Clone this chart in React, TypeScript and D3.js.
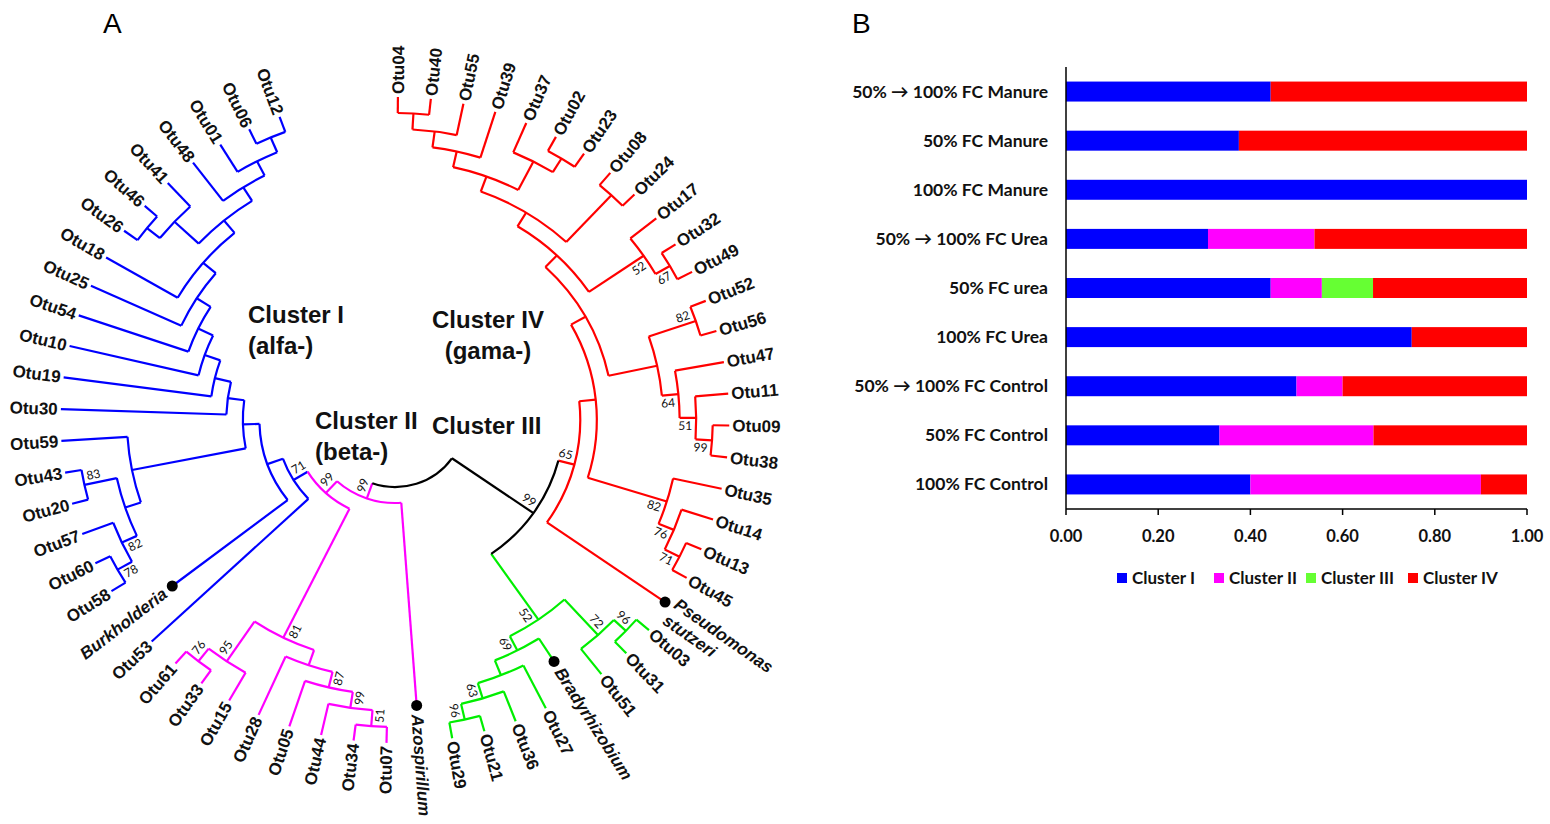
import React from 'react';
import * as d3 from 'd3';

// ================= Panel A : circular dendrogram data =================
// Newick pieces (support value, optional "-" = label on the other side, optional "#k" = cluster colour)
const clusterIVNewick =
  "(((((((((Otu04,Otu40),Otu55),Otu39),(Otu37,(Otu02,Otu23))),(Otu08,Otu24)),(Otu17,(Otu32,Otu49)67)52),((Otu52,Otu56)82-,(Otu47,(Otu11,(Otu09,Otu38)99)51)64)),(Otu35,(Otu14,(Otu13,Otu45)71)76)82),Pseudomonas_stutzeri)65-#4";
const clusterIIINewick =
  "(((Otu03,Otu31)96-,Otu51)72-,(Bradyrhizobium,(Otu27,(Otu36,(Otu21,Otu29)96)63))69)52#3";
const clusterIINewick =
  "(((((Otu07,Otu34)51,Otu44)99,Otu05)87,Otu28),(Otu15,(Otu33,Otu61)76-)95-)81";
const clusterIAlfaCore = "(((Otu26,Otu46),Otu41),(Otu48,(Otu01,(Otu06,Otu12))))";
const clusterINewick =
  "(Otu53,(Burkholderia,(((((Otu58,Otu60)78,Otu57)82,(Otu20,Otu43)83-),Otu59),(Otu30,(Otu19,(Otu10,(Otu54,(Otu25,(Otu18," +
  clusterIAlfaCore + ")))))))))71-#1";
const treeNewick =
  "((" + clusterIVNewick + "," + clusterIIINewick + ")99-#0,(Azospirillum,(" + clusterIINewick + "," + clusterINewick + ")99-)99-#2)#0;";

const refTaxa = ["Burkholderia", "Azospirillum", "Bradyrhizobium", "Pseudomonas stutzeri"];
const refTipHeight = [3.2, 2.3, 2.3, 0.3];
const treeColors = ["#000000", "#0000FF", "#FF00FF", "#00EE00", "#FF0000"];

const clusterLabels = [
  { lines: ["Cluster I", "(alfa-)"], x: 248, y: 323, anchor: "start" },
  { lines: ["Cluster IV", "(gama-)"], x: 488, y: 328, anchor: "middle" },
  { lines: ["Cluster II", "(beta-)"], x: 315, y: 429, anchor: "start" },
  { lines: ["Cluster III"], x: 432, y: 434, anchor: "start" },
];

// ================= Panel B : stacked bar data =================
const categories = [
  "50% \u2192 100% FC Manure",
  "50% FC Manure",
  "100% FC Manure",
  "50% \u2192 100% FC Urea",
  "50% FC urea",
  "100% FC Urea",
  "50% \u2192 100% FC Control",
  "50% FC Control",
  "100% FC Control",
];
const clusterI = [0.444, 0.375, 1.0, 0.308, 0.444, 0.75, 0.5, 0.333, 0.4];
const clusterII = [0, 0, 0, 0.231, 0.111, 0, 0.1, 0.334, 0.5];
const clusterIII = [0, 0, 0, 0, 0.111, 0, 0, 0, 0];
const clusterIV = [0.556, 0.625, 0, 0.461, 0.334, 0.25, 0.4, 0.333, 0.1];
const seriesNames = ["Cluster I", "Cluster II", "Cluster III", "Cluster IV"];
const barColors = ["#0000FF", "#FF00FF", "#66FF33", "#FF0000"];
const xTicks = [0, 0.2, 0.4, 0.6, 0.8, 1.0];

// ---------------- helpers ----------------
type TNode = { name?: string; children?: TNode[]; support?: number; side: number; cluster?: number; cl?: number };

function parseNewick(s: string): TNode {
  let i = 0;
  function node(): TNode {
    const n: TNode = { side: 1 };
    if (s[i] === '(') {
      i++;
      n.children = [node()];
      while (s[i] === ',') { i++; n.children.push(node()); }
      i++; // ')'
    }
    let lab = '';
    while (i < s.length && !',);'.includes(s[i])) lab += s[i++];
    if (n.children) {
      const m = lab.match(/^(\d*)([+-]?)(?:#(\d))?$/);
      if (m) {
        if (m[1]) n.support = +m[1];
        n.side = m[2] === '-' ? -1 : 1;
        if (m[3] !== undefined) n.cluster = +m[3];
      }
    } else {
      n.name = lab.replace(/_/g, ' ');
    }
    return n;
  }
  return node();
}

const CX = 395, CY = 420, KX = 1.035;
const pt = (deg: number, r: number): [number, number] => {
  const t = (deg * Math.PI) / 180;
  return [CX + KX * r * Math.sin(t), CY - r * Math.cos(t)];
};
const arcPath = (t1: number, t2: number, r: number) => {
  const [x1, y1] = pt(t1, r);
  const [x2, y2] = pt(t2, r);
  const large = t2 - t1 > 180 ? 1 : 0;
  return `M${x1},${y1}A${KX * r},${r} 0 ${large} 1 ${x2},${y2}`;
};

function PanelA() {
  const data = parseNewick(treeNewick);
  const root = d3.hierarchy<TNode>(data, (d) => d.children);
  d3.cluster<TNode>().size([1, 1]).separation(() => 1)(root);
  root.each((d) => {
    d.data.cl = d.data.cluster ?? (d.parent ? d.parent.data.cl : 0);
  });
  const leaves = root.leaves();
  const ang = d3.scaleLinear().domain([leaves[0].x!, leaves[leaves.length - 1].x!]).range([0.5, 339.8]);
  const rad = d3.scaleLinear().domain([0, root.height]).range([323, 67]);
  const tipR = (d: d3.HierarchyNode<TNode>) => {
    const k = refTaxa.indexOf(d.data.name || '');
    return k >= 0 ? rad(refTipHeight[k]) : rad(0);
  };
  const nodes = root.descendants();
  const rot = (t: number) => (t < 180 ? t - 90 : t + 90);

  return (
    <g>
      <text x={103} y={33} fontFamily="Liberation Sans, Arial, sans-serif" fontSize={28}>A</text>
      {/* radial branches */}
      {nodes.filter((d) => d.parent).map((d, i) => {
        const t = ang(d.x!);
        const [x1, y1] = pt(t, rad(d.parent!.height));
        const [x2, y2] = pt(t, d.children ? rad(d.height) : tipR(d));
        return <line key={'r' + i} x1={x1} y1={y1} x2={x2} y2={y2} stroke={treeColors[d.data.cl!]} strokeWidth={2.2} />;
      })}
      {/* arcs */}
      {nodes.filter((d) => d.children).map((d, i) => {
        const c = d.children!;
        return (
          <path key={'a' + i} d={arcPath(ang(c[0].x!), ang(c[c.length - 1].x!), rad(d.height))}
            fill="none" stroke={treeColors[d.data.cl!]} strokeWidth={2.2} />
        );
      })}
      {/* leaf labels */}
      {leaves.map((d, i) => {
        const t = ang(d.x!);
        const isRef = refTaxa.includes(d.data.name!);
        const r = tipR(d);
        const [xd, yd] = pt(t, r);
        const [xl, yl] = pt(t, r + (isRef ? 9 : 3));
        const parts = d.data.name!.split(' ');
        const multi = parts.length > 1;
        return (
          <g key={'l' + i}>
            {isRef && <circle cx={xd} cy={yd} r={5.5} fill="#000" />}
            <text transform={`translate(${xl},${yl}) rotate(${rot(t)})`}
              textAnchor={t < 180 ? 'start' : 'end'} dy={multi ? '0' : '0.35em'}
              fontFamily="Liberation Sans, Arial, sans-serif" fontSize={17} fontWeight="bold"
              fontStyle={isRef ? 'italic' : 'normal'} fill="#111">
              {multi ? (
                <>
                  <tspan x={0}>{parts[0]}</tspan>
                  <tspan x={0} dy="1.15em">{parts[1]}</tspan>
                </>
              ) : d.data.name}
            </text>
          </g>
        );
      })}
      {/* support values */}
      {nodes.filter((d) => d.children && d.data.support !== undefined).map((d, i) => {
        const t = ang(d.x!);
        const [x, y] = pt(t, rad(d.height));
        const right = t < 180;
        return (
          <text key={'s' + i} transform={`translate(${x},${y}) rotate(${rot(t)})`}
            x={right ? -11 : 11} y={d.data.side * 8 + 4} textAnchor="middle"
            fontFamily="Lato, sans-serif" fontSize={12} fill="#111">
            {d.data.support}
          </text>
        );
      })}
      {/* cluster labels */}
      {clusterLabels.map((c, i) => (
        <text key={'c' + i} x={c.x} y={c.y} textAnchor={c.anchor as any}
          fontFamily="Liberation Sans, Arial, sans-serif" fontSize={24} fontWeight="bold" fill="#111">
          {c.lines.map((ln, j) => (
            <tspan key={j} x={c.x} dy={j === 0 ? 0 : 31}>{ln}</tspan>
          ))}
        </text>
      ))}
    </g>
  );
}

function PanelB() {
  const x = d3.scaleLinear().domain([0, 1]).range([1066, 1527]);
  const y = d3.scaleBand<string>().domain(categories).range([67, 509]).paddingInner(0.593).paddingOuter(0.2965);
  const rows = categories.map((c, i) => ({
    cat: c, "Cluster I": clusterI[i], "Cluster II": clusterII[i], "Cluster III": clusterIII[i], "Cluster IV": clusterIV[i],
  }));
  const stack = d3.stack<any>().keys(seriesNames)(rows);
  const font = "Lato, 'Open Sans', sans-serif";
  const legendX = [1117, 1214, 1306, 1408];
  return (
    <g>
      <text x={852} y={33} fontFamily="Liberation Sans, Arial, sans-serif" fontSize={28}>B</text>
      {stack.map((s, si) => (
        <g key={si} fill={barColors[si]}>
          {s.map((d, i) => (
            d[1] - d[0] > 0 ? (
              <rect key={i} x={x(d[0])} y={y(categories[i])} width={x(d[1]) - x(d[0])} height={y.bandwidth()} />
            ) : null
          ))}
        </g>
      ))}
      {/* axes */}
      <line x1={1066} x2={1066} y1={67} y2={509} stroke="#000" strokeWidth={1.5} />
      <line x1={1066} x2={1527} y1={509} y2={509} stroke="#000" strokeWidth={1.5} />
      {xTicks.map((t, i) => (
        <g key={i}>
          <line x1={x(t)} x2={x(t)} y1={509} y2={515} stroke="#000" strokeWidth={1.5} />
          <text x={x(t)} y={542} textAnchor="middle" fontFamily={font} fontWeight="bold" fontSize={16.5} fill="#111">
            {d3.format('.2f')(t)}
          </text>
        </g>
      ))}
      {categories.map((c, i) => (
        <text key={i} x={1048} y={y(c)! + y.bandwidth() / 2 + 6} textAnchor="end"
          fontFamily={font} fontWeight="bold" fontSize={17.5} fill="#111">{c}</text>
      ))}
      {seriesNames.map((s, i) => (
        <g key={s}>
          <rect x={legendX[i]} y={573} width={10} height={10} fill={barColors[i]} />
          <text x={legendX[i] + 15} y={583.5} fontFamily={font} fontWeight="bold" fontSize={17} fill="#111">{s}</text>
        </g>
      ))}
    </g>
  );
}

export default function App() {
  return (
    <svg width={1550} height={824} style={{ position: 'absolute', left: 0, top: 0, background: '#fff' }}>
      <rect width={1550} height={824} fill="#fff" />
      <PanelA />
      <PanelB />
    </svg>
  );
}
